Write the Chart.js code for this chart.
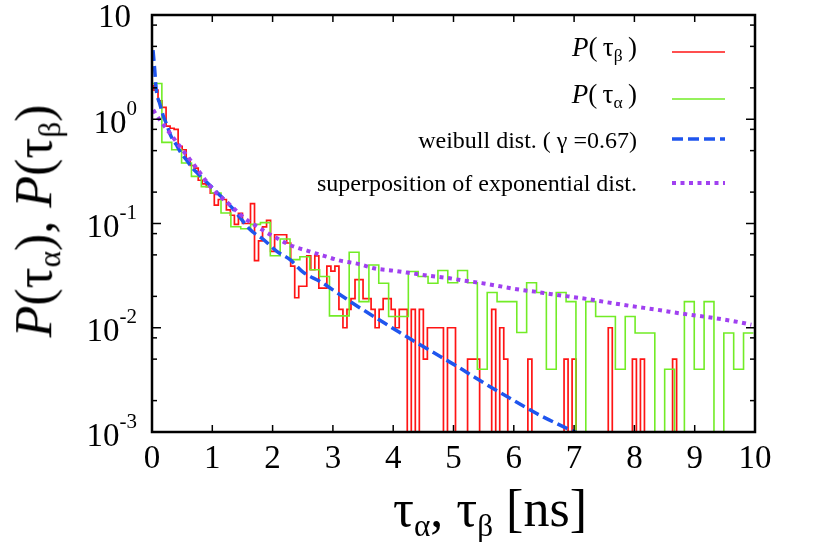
<!DOCTYPE html>
<html lang="en">
<head>
<meta charset="UTF-8">
<title>P(tau) distributions</title>
<script src="https://cdn.jsdelivr.net/npm/chart.js"></script>
<style>
    body { margin: 0; background: #fff; }
    #wrap { position: relative; width: 830px; height: 542px; font-family: 'Liberation Serif', 'Times New Roman', serif; color: #000; }
    #wrap canvas { position: absolute; left: 0; top: 0; }
    .lab { position: absolute; white-space: nowrap; line-height: 1; }
    .lab sub { font-size: 0.6em; vertical-align: -0.3em; }
    .leg { position: absolute; right: 193px; white-space: nowrap; line-height: 1; font-size: 24px; transform: translateY(-50%); }
    .leg sub { font-size: 0.65em; vertical-align: -0.3em; }
</style>
</head>
<body>
<div id="wrap">
    <canvas id="chart" width="830" height="542"></canvas>
    <div class="lab" style="left:490px; top:512px; transform:translate(-50%,-50%); font-size:52px;">τ<sub>α</sub>, τ<sub>β</sub> [ns]</div>
    <div class="lab" style="left:37px; top:221px; transform:translate(-50%,-50%) rotate(-90deg); font-size:52px;"><i>P</i>(τ<sub>α</sub>), <i>P</i>(τ<sub>β</sub>)</div>
    <div class="leg" style="top:49px; font-size:27px;"><i>P</i>(&#8201;τ<sub>β</sub>&#8201;)</div>
    <div class="leg" style="top:96px; font-size:27px;"><i>P</i>(&#8201;τ<sub>α</sub>&#8201;)</div>
    <div class="leg" style="top:140px;">weibull dist. ( γ =0.67)</div>
    <div class="leg" style="top:183px;">superposition of exponential dist.</div>
</div>
<script>
    // histogram of tau_beta (red), bins of 1/15 ns centred on k/15
    const redBinWidth = 1 / 15;
    const redFirstEdge = -1 / 30;
    const redValues = [
        2.1, 1.9, 1.5, 1.3, 0.86, 0.82, 0.80, 0.55, 0.51, 0.42,
        0.36, 0.34, 0.26, 0.24, 0.226, 0.195, 0.15, 0.17, 0.17, 0.135,
        0.12, 0.098, 0.125, 0.10, 0.10, 0.155, 0.044, 0.068, 0.093, 0.107,
        0.054, 0.078, 0.078, 0.078, 0.065, 0.039, 0.0194, 0.025, 0.025, 0.049,
        0.036, 0.049, 0.024, 0.024, 0.039, 0.035, 0.039, 0.015, 0.01, 0.015,
        0.019, 0.029, 0.029, 0.019, 0.019, 0.015, 0.01, 0.015, 0.019, 0.019,
        0.015, 0.01, 0.015, 0.015, 0, 0.015, 0, 0.015, 0.005, 0.01,
        0.01, 0.01, 0.01, 0, 0.01, 0.01, 0, 0, 0, 0.005,
        0.005, 0.005, 0, 0, 0, 0.015, 0, 0.01, 0.005, 0,
        0, 0, 0, 0, 0.005, 0, 0, 0, 0, 0,
        0, 0, 0, 0.005, 0, 0.005, 0, 0, 0, 0,
        0, 0, 0, 0, 0.01, 0, 0, 0, 0, 0,
        0.005, 0, 0.005, 0, 0, 0, 0, 0, 0, 0,
        0.005, 0, 0, 0, 0, 0, 0, 0, 0, 0,
        0, 0, 0, 0, 0, 0, 0, 0, 0, 0
    ];

    // histogram of tau_alpha (green)
    const greenBinWidth = 0.1635;
    const greenFirstEdge = 0;
    const greenValues = [
        2.2, 0.60, 0.51, 0.38, 0.283, 0.226, 0.196, 0.126, 0.093, 0.089,
        0.098, 0.102, 0.049, 0.071, 0.045, 0.048, 0.036, 0.031, 0.013, 0.013,
        0.053, 0.0178, 0.040, 0.0267, 0.0128, 0.0128, 0.0346, 0.031, 0.0267, 0.0354,
        0.027, 0.0354, 0.027, 0.0040, 0.0218, 0.0178, 0.0178, 0.0090, 0.027, 0.0218,
        0.0040, 0.0218, 0.0178, 0, 0.0178, 0.0128, 0.0128, 0.0040, 0.0128, 0.0089,
        0.0089, 0, 0.0040, 0, 0.0178, 0.0040, 0.0178, 0, 0.0089, 0.0040,
        0.0089
    ];

    // weibull fit
    const weibullX = [0.017, 0.045, 0.071, 0.127, 0.182, 0.237, 0.32, 0.403, 0.486, 0.569,
        0.652, 0.763, 0.874, 0.983, 1.09, 1.26, 1.40, 1.63, 1.85, 2.07,
        2.29, 2.51, 2.79, 3.12, 3.45, 3.78, 4.11, 4.44, 4.78, 5.08,
        5.33, 5.88, 6.43, 7.1, 7.4];
    const weibullY = [4.6, 2.97, 1.91, 1.42, 1.10, 0.91, 0.68, 0.57, 0.47, 0.41,
        0.35, 0.30, 0.26, 0.226, 0.195, 0.157, 0.126, 0.087, 0.070, 0.054,
        0.045, 0.034, 0.0277, 0.0207, 0.0155, 0.0118, 0.0090, 0.0069, 0.0053, 0.0042,
        0.0034, 0.0022, 0.00145, 0.00095, 0.0008];

    // superposition of exponentials
    const superX = [0.02, 0.10, 0.30, 0.46, 0.63, 0.74, 0.91, 1.07, 1.21, 1.32,
        1.43, 1.54, 1.65, 1.79, 1.90, 2.04, 2.29, 2.43, 2.57, 2.70,
        2.85, 3.12, 3.42, 3.70, 4.00, 4.31, 4.58, 4.91, 5.16, 5.47,
        5.74, 6.05, 6.35, 6.63, 6.90, 7.21, 7.48, 7.93, 8.37, 8.81,
        9.23, 9.67, 9.94];
    const superY = [1.23, 1.04, 0.73, 0.55, 0.41, 0.34, 0.25, 0.195, 0.166, 0.146,
        0.127, 0.112, 0.101, 0.090, 0.082, 0.074, 0.062, 0.058, 0.055, 0.052,
        0.049, 0.044, 0.041, 0.037, 0.0353, 0.0333, 0.0316, 0.030, 0.0284, 0.0268,
        0.0252, 0.0234, 0.0222, 0.021, 0.020, 0.0189, 0.0178, 0.0162, 0.0149, 0.0136,
        0.0126, 0.0115, 0.0107];

    const xTicks = [0, 1, 2, 3, 4, 5, 6, 7, 8, 9, 10];
    const yMajorTicks = [10, 1, 0.1, 0.01, 0.001];
    const yMinorTicks = [8, 5, 2, 0.8, 0.5, 0.2, 0.08, 0.05, 0.02, 0.008, 0.005, 0.002];
    const yLabelExps = ['', '0', '-1', '-2', '-3'];

    const legendRows = [52, 99, 139, 183];
    const zeroFloor = 1e-6; // empty bins drop below the axis and get clipped

    const histPoints = (values, first, width) => {
        const pts = values.map((v, i) => ({ x: first + i * width, y: v > 0 ? v : zeroFloor }));
        pts.push({ x: first + values.length * width, y: pts[pts.length - 1].y });
        return pts;
    };
    const curvePoints = (xs, ys) => xs.map((x, i) => ({ x: x, y: ys[i] }));

    const frameAndLabels = {
        id: 'frameAndLabels',
        afterDraw(chart) {
            const { ctx, chartArea: a, scales: { x, y } } = chart;
            ctx.save();
            ctx.strokeStyle = '#000';
            ctx.lineWidth = 1.5;
            const seg = (x1, y1, x2, y2) => { ctx.beginPath(); ctx.moveTo(x1, y1); ctx.lineTo(x2, y2); ctx.stroke(); };
            xTicks.forEach(v => {
                const px = x.getPixelForValue(v);
                seg(px, a.bottom, px, a.bottom - 7);
                seg(px, a.top, px, a.top + 7);
            });
            yMajorTicks.forEach(v => {
                const py = y.getPixelForValue(v);
                seg(a.left, py, a.left + 9, py);
                seg(a.right, py, a.right - 9, py);
            });
            yMinorTicks.forEach(v => {
                const py = y.getPixelForValue(v);
                seg(a.left, py, a.left + 5, py);
                seg(a.right, py, a.right - 5, py);
            });
            ctx.lineWidth = 2.5;
            ctx.strokeRect(a.left, a.top, a.right - a.left, a.bottom - a.top);

            // y tick labels with superscript exponents
            ctx.fillStyle = '#000';
            ctx.textAlign = 'right';
            ctx.textBaseline = 'middle';
            yMajorTicks.forEach((v, i) => {
                const py = y.getPixelForValue(v);
                const exp = yLabelExps[i];
                if (!exp) {
                    ctx.font = '33px "Liberation Serif"';
                    ctx.fillText('10', 131, py + 3);
                    return;
                }
                ctx.font = '21px "Liberation Serif"';
                const w = ctx.measureText(exp).width;
                ctx.fillText(exp, 137, py - 10);
                ctx.font = '33px "Liberation Serif"';
                ctx.fillText('10', 137 - w, py + 5);
            });

            // legend samples, styled from the datasets
            chart.data.datasets.forEach((ds, i) => {
                const ly = legendRows[i];
                ctx.strokeStyle = ds.borderColor;
                ctx.lineWidth = ds.borderWidth;
                ctx.setLineDash(ds.borderDash || []);
                seg(672, ly, 725, ly);
            });
            ctx.restore();
        }
    };

    new Chart(document.getElementById('chart'), {
        type: 'line',
        data: {
            datasets: [{
                label: 'P(tau_beta)',
                data: histPoints(redValues, redFirstEdge, redBinWidth),
                borderColor: '#ff1414',
                borderWidth: 1.7,
                stepped: 'before',
                pointRadius: 0,
                order: 4
            }, {
                label: 'P(tau_alpha)',
                data: histPoints(greenValues, greenFirstEdge, greenBinWidth),
                borderColor: '#72ec26',
                borderWidth: 1.6,
                stepped: 'before',
                pointRadius: 0,
                order: 3
            }, {
                label: 'weibull dist. (gamma=0.67)',
                data: curvePoints(weibullX, weibullY),
                borderColor: '#1f55ee',
                borderWidth: 3.5,
                borderDash: [11, 5],
                cubicInterpolationMode: 'monotone',
                pointRadius: 0,
                order: 2
            }, {
                label: 'superposition of exponential dist.',
                data: curvePoints(superX, superY),
                borderColor: '#a040f0',
                borderWidth: 4,
                borderDash: [4, 4.5],
                cubicInterpolationMode: 'monotone',
                pointRadius: 0,
                order: 1
            }]
        },
        options: {
            responsive: false,
            animation: false,
            layout: { padding: { top: 15, right: 75, left: 0, bottom: 0 } },
            plugins: { legend: { display: false }, tooltip: { enabled: false } },
            scales: {
                x: {
                    type: 'linear',
                    min: 0,
                    max: 10,
                    ticks: { stepSize: 1, color: '#000', padding: 8, font: { family: 'Liberation Serif', size: 33 } },
                    grid: { display: false, drawTicks: false },
                    border: { display: false },
                    afterFit: s => { s.height = 110; }
                },
                y: {
                    type: 'logarithmic',
                    min: 0.001,
                    max: 10,
                    ticks: { display: false },
                    grid: { display: false },
                    border: { display: false },
                    afterFit: s => { s.width = 152; }
                }
            }
        },
        plugins: [frameAndLabels]
    });
</script>
</body>
</html>
